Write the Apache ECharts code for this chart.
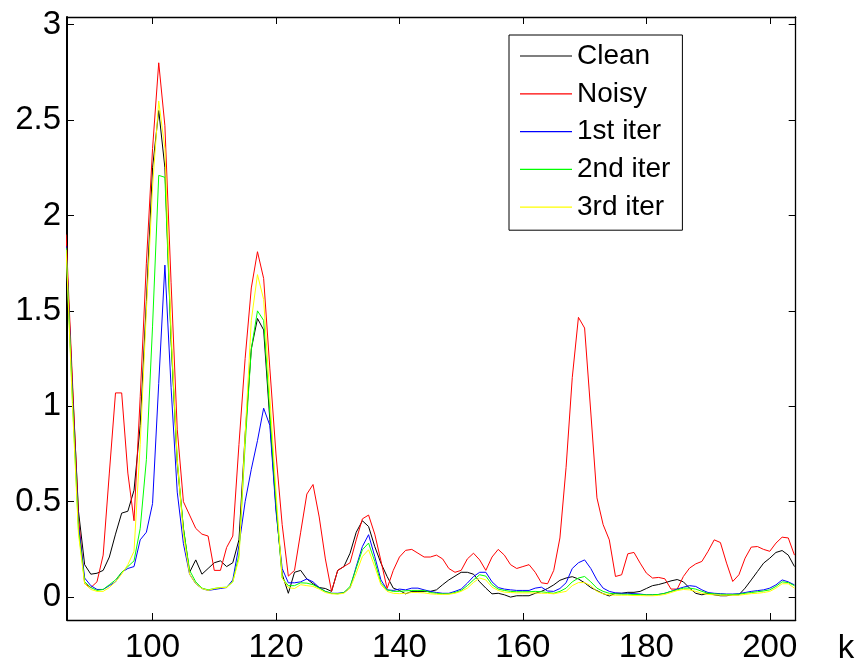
<!DOCTYPE html>
<html>
<head>
<meta charset="utf-8">
<script src="https://cdn.jsdelivr.net/npm/echarts@6/dist/echarts.min.js"></script>
<style>
html,body{margin:0;padding:0;background:#fff;}
#c{width:859px;height:666px;}
</style>
</head>
<body>
<div id="c"></div>
<script>
// sample index k = 86 ... 204
const K_START = 86;
const seriesNames = ['Clean', 'Noisy', '1st iter', '2nd iter', '3rd iter'];
const seriesColors = ['#000000', '#ff0000', '#0000ff', '#00ff00', '#ffff00'];
const xTicks = [100, 120, 140, 160, 180, 200];
const yTicks = [0, 0.5, 1, 1.5, 2, 2.5, 3];

const clean = [
1.84,1.12,0.45,0.17,0.12,0.125,0.14,0.21,0.33,0.44,
0.45,0.56,0.90,1.55,2.25,2.55,2.25,1.35,0.70,0.36,
0.13,0.195,0.12,0.15,0.18,0.19,0.16,0.18,0.30,0.85,
1.30,1.46,1.40,0.93,0.47,0.12,0.02,0.13,0.14,0.095,
0.07,0.05,0.045,0.03,0.14,0.16,0.23,0.34,0.40,0.37,
0.265,0.178,0.108,0.047,0.035,0.017,0.03,0.03,0.03,0.03,
0.038,0.065,0.09,0.11,0.13,0.13,0.12,0.08,0.047,0.017,
0.02,0.012,0.0,0.007,0.007,0.007,0.02,0.03,0.045,0.064,
0.088,0.10,0.107,0.095,0.075,0.05,0.034,0.018,0.006,0.02,
0.02,0.025,0.025,0.03,0.045,0.06,0.066,0.075,0.085,0.092,
0.08,0.047,0.02,0.012,0.02,0.012,0.007,0.007,0.012,0.012,
0.047,0.09,0.134,0.178,0.204,0.234,0.244,0.22,0.16
];
const noisy = [
1.90,1.15,0.42,0.07,0.05,0.08,0.22,0.65,1.07,1.07,
0.65,0.40,1.05,1.75,2.35,2.80,2.47,1.65,0.88,0.50,
0.43,0.36,0.33,0.32,0.14,0.14,0.26,0.32,0.80,1.25,
1.62,1.81,1.67,1.20,0.75,0.38,0.11,0.14,0.34,0.54,
0.59,0.42,0.20,0.03,0.14,0.16,0.18,0.30,0.41,0.43,
0.33,0.19,0.045,0.14,0.21,0.245,0.25,0.23,0.21,0.21,
0.22,0.20,0.15,0.13,0.14,0.20,0.23,0.195,0.14,0.21,
0.25,0.22,0.17,0.15,0.16,0.17,0.13,0.075,0.07,0.14,
0.31,0.68,1.15,1.466,1.41,0.97,0.52,0.38,0.30,0.108,
0.117,0.227,0.234,0.178,0.126,0.10,0.103,0.096,0.042,0.042,
0.108,0.152,0.174,0.187,0.24,0.30,0.286,0.178,0.082,0.117,
0.204,0.262,0.265,0.25,0.24,0.283,0.314,0.31,0.22
];
const iter1 = [
1.84,1.08,0.38,0.10,0.06,0.04,0.04,0.06,0.08,0.13,
0.15,0.16,0.30,0.34,0.49,1.12,1.74,1.10,0.55,0.28,
0.12,0.07,0.045,0.035,0.04,0.045,0.05,0.09,0.27,0.50,
0.67,0.82,0.99,0.90,0.45,0.15,0.075,0.075,0.08,0.095,
0.08,0.05,0.03,0.02,0.02,0.024,0.047,0.16,0.265,0.327,
0.213,0.09,0.038,0.035,0.042,0.038,0.047,0.047,0.038,0.03,
0.024,0.02,0.02,0.03,0.042,0.073,0.108,0.13,0.13,0.08,
0.05,0.042,0.038,0.035,0.035,0.035,0.047,0.052,0.032,0.03,
0.045,0.075,0.15,0.18,0.195,0.15,0.09,0.047,0.03,0.022,
0.02,0.02,0.018,0.016,0.012,0.012,0.014,0.02,0.03,0.042,
0.052,0.06,0.056,0.038,0.024,0.02,0.018,0.016,0.016,0.018,
0.024,0.03,0.034,0.038,0.047,0.064,0.09,0.08,0.064
];
const iter2 = [
1.83,1.05,0.35,0.08,0.05,0.035,0.04,0.065,0.09,0.13,
0.16,0.19,0.36,0.72,1.42,2.21,2.20,1.35,0.72,0.36,
0.14,0.08,0.047,0.038,0.045,0.05,0.052,0.08,0.22,0.80,
1.30,1.50,1.45,0.97,0.50,0.10,0.06,0.06,0.075,0.073,
0.065,0.047,0.03,0.02,0.017,0.024,0.056,0.152,0.248,0.283,
0.187,0.073,0.038,0.03,0.03,0.033,0.035,0.035,0.035,0.024,
0.02,0.017,0.017,0.024,0.035,0.06,0.09,0.117,0.11,0.065,
0.042,0.035,0.03,0.028,0.028,0.028,0.03,0.028,0.024,0.02,
0.03,0.047,0.08,0.10,0.108,0.08,0.047,0.03,0.02,0.017,
0.015,0.015,0.014,0.013,0.012,0.012,0.014,0.02,0.03,0.038,
0.047,0.047,0.042,0.03,0.02,0.017,0.015,0.014,0.014,0.015,
0.02,0.024,0.028,0.032,0.038,0.056,0.08,0.076,0.06
];
const iter3 = [
1.82,1.02,0.33,0.07,0.04,0.03,0.03,0.05,0.08,0.12,
0.17,0.24,0.80,1.50,2.15,2.60,2.35,1.40,0.72,0.33,
0.12,0.07,0.045,0.035,0.045,0.05,0.05,0.08,0.20,0.85,
1.45,1.69,1.56,1.05,0.55,0.10,0.05,0.045,0.065,0.06,
0.056,0.042,0.024,0.017,0.016,0.02,0.047,0.126,0.213,0.248,
0.16,0.065,0.03,0.02,0.018,0.02,0.024,0.024,0.022,0.017,
0.015,0.014,0.015,0.02,0.03,0.047,0.077,0.10,0.09,0.052,
0.035,0.026,0.024,0.022,0.022,0.022,0.022,0.02,0.02,0.017,
0.024,0.03,0.06,0.076,0.076,0.06,0.03,0.017,0.012,0.01,
0.01,0.01,0.008,0.008,0.007,0.007,0.009,0.014,0.024,0.034,
0.04,0.038,0.03,0.02,0.014,0.012,0.01,0.01,0.01,0.01,
0.014,0.018,0.02,0.024,0.03,0.047,0.07,0.07,0.047
];

const allValues = [clean, noisy, iter1, iter2, iter3];
const toPairs = arr => arr.map((v, i) => [K_START + i, v]);

const X_MIN = 86.14, X_MAX = 204.2;
const Y_MIN = -0.12, Y_MAX = 3.04;
const tickFont = 'Liberation Sans';
const legendFont = 'Liberation Sans';

const chart = echarts.init(document.getElementById('c'), null, {renderer: 'canvas'});

const axisBase = (extra) => Object.assign({
  type: 'value',
  splitLine: {show: false},
  axisLine: {show: true, onZero: false, lineStyle: {color: '#000', width: 1.3}},
  axisTick: {show: true, inside: true, length: 7, lineStyle: {color: '#000', width: 1}},
}, extra);

const option = {
  animation: false,
  backgroundColor: '#fff',
  grid: {left: 67, top: 17, right: 63.3, bottom: 46, containLabel: false},
  xAxis: [
    axisBase({
      min: X_MIN, max: X_MAX, position: 'bottom',
      axisTick: {show: true, inside: true, length: 7, customValues: xTicks, lineStyle: {color: '#000', width: 1}},
      axisLabel: {customValues: xTicks, fontFamily: tickFont, fontSize: 33, color: '#000', margin: 11},
      name: 'k', nameLocation: 'end', nameGap: 42,
      nameTextStyle: {fontFamily: tickFont, fontSize: 33, color: '#000', verticalAlign: 'top', padding: [12, 0, 0, 0]}
    }),
    axisBase({
      min: X_MIN, max: X_MAX, position: 'top',
      axisTick: {show: true, inside: true, length: 7, customValues: xTicks, lineStyle: {color: '#000', width: 1}},
      axisLabel: {show: false}
    })
  ],
  yAxis: [
    axisBase({
      min: Y_MIN, max: Y_MAX, position: 'left',
      axisLine: {show: true, onZero: false, lineStyle: {color: '#000', width: 2}},
      axisTick: {show: true, inside: true, length: 7, customValues: yTicks, lineStyle: {color: '#000', width: 1}},
      axisLabel: {customValues: yTicks, fontFamily: tickFont, fontSize: 33, color: '#000', margin: 6}
    }),
    axisBase({
      min: Y_MIN, max: Y_MAX, position: 'right',
      axisTick: {show: true, inside: true, length: 7, customValues: yTicks, lineStyle: {color: '#000', width: 1}},
      axisLabel: {show: false}
    })
  ],
  legend: {
    orient: 'vertical',
    left: 509, top: 35,
    padding: [7, 12, 9, 11],
    itemGap: 9.8,
    itemWidth: 52,
    itemHeight: 1.2,
    icon: 'rect',
    itemTextGap: 7,
    borderColor: '#000', borderWidth: 1,
    backgroundColor: '#fff',
    data: seriesNames,
    textStyle: {fontFamily: legendFont, fontSize: 28, color: '#000', lineHeight: 27}
  },
  series: seriesNames.map((name, i) => ({
    name: name,
    type: 'line',
    xAxisIndex: 0, yAxisIndex: 0,
    data: toPairs(allValues[i]),
    symbol: 'none',
    smooth: false,
    clip: true,
    lineStyle: {color: seriesColors[i], width: 1},
    itemStyle: {color: seriesColors[i]},
    z: 2 + i
  }))
};
chart.setOption(option);
</script>
</body>
</html>
